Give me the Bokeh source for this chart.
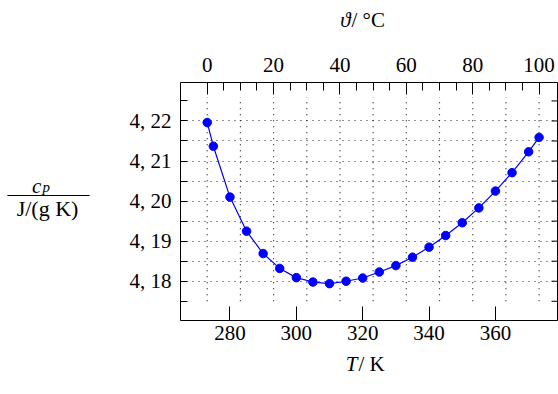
from bokeh.plotting import figure
from bokeh.models import Range1d, LinearAxis, FixedTicker, CustomJSTickFormatter, Label
from bokeh.embed import file_html
from bokeh.resources import INLINE

# ---------------- data ----------------
T_K = [273.15, 275, 280, 285, 290, 295, 300, 305, 310, 315, 320, 325, 330,
       335, 340, 345, 350, 355, 360, 365, 370, 373.15]
cp = [4.2196, 4.2137, 4.2010, 4.1925, 4.1869, 4.1832, 4.1809, 4.1798, 4.1794,
      4.1800, 4.1808, 4.1823, 4.1839, 4.1860, 4.1885, 4.1914, 4.1946, 4.1983,
      4.2025, 4.2071, 4.2123, 4.2159]

x_ticks_K = [280, 300, 320, 340, 360]
x_ticks_C = [0, 20, 40, 60, 80, 100]
x_minor_C = [0, 5, 10, 15, 20, 25, 30, 35, 40, 45, 50, 55, 60, 65, 70, 75, 80, 85, 90, 95, 100]
grid_C = [0, 10, 20, 30, 40, 50, 60, 70, 80, 90, 100]
y_ticks = [4.18, 4.19, 4.20, 4.21, 4.22]
y_minor = [4.175, 4.185, 4.195, 4.205, 4.215, 4.225]
y_grid = [4.18, 4.185, 4.19, 4.195, 4.20, 4.205, 4.21, 4.215, 4.22]
KELVIN_OFFSET = 273.15

# ---------------- layout ----------------
X_START, X_END = 265.1, 379.0
Y_START, Y_END = 4.1702, 4.2296
FONT = "Liberation Serif"
FS = "21px"

p = figure(width=558, height=394,
           x_range=Range1d(X_START, X_END), y_range=Range1d(Y_START, Y_END),
           output_backend="svg", toolbar_location=None,
           min_border_left=180, min_border_right=0,
           min_border_top=82, min_border_bottom=74)
p.background_fill_color = "white"
p.border_fill_color = "white"
p.outline_line_color = "black"
p.outline_line_width = 1
p.outline_line_alpha = 1

# canvas px -> data helpers (for texts placed around the frame)
FL, FR, FT, FB = 180.0, 558.0, 82.0, 320.0
def tx(px):
    return X_START + (px - FL) * (X_END - X_START) / (FR - FL)
def ty(py):
    return Y_END - (py - FT) * (Y_END - Y_START) / (FB - FT)

# grids
p.xgrid.visible = False
p.ygrid.ticker = FixedTicker(ticks=y_grid)
p.ygrid.grid_line_color = "#222222"
p.ygrid.grid_line_dash = "1 5"
p.ygrid.grid_line_width = 1.2

vx = [KELVIN_OFFSET + c for c in grid_C]
p.segment(x0=vx, y0=[min(y_minor)] * len(vx), x1=vx, y1=[max(y_minor) + 0.001] * len(vx),
          line_color="#222222", line_dash="1 5", line_width=1.2)

# bottom axis (Kelvin)
xa = p.xaxis[0]
xa.ticker = FixedTicker(ticks=x_ticks_K, minor_ticks=[])
xa.major_tick_in = 14
xa.major_tick_out = 0
xa.minor_tick_in = 0
xa.minor_tick_out = 0
xa.axis_line_color = None
xa.major_tick_line_color = "black"
xa.major_label_text_font = FONT
xa.major_label_text_font_size = FS
xa.major_label_text_color = "black"
xa.major_label_standoff = 5

# left axis
ya = p.yaxis[0]
ya.ticker = FixedTicker(ticks=y_ticks, minor_ticks=y_minor)
ya.formatter = CustomJSTickFormatter(code="return tick.toFixed(2).replace('.', ', ');")
ya.major_tick_in = 7
ya.major_tick_out = 0
ya.minor_tick_in = 7
ya.minor_tick_out = 0
ya.axis_line_color = None
ya.major_tick_line_color = "black"
ya.minor_tick_line_color = "black"
ya.major_label_text_font = FONT
ya.major_label_text_font_size = FS
ya.major_label_text_color = "black"
ya.major_label_standoff = 9

# top axis (Celsius)
p.extra_x_ranges = {"celsius": Range1d(X_START - KELVIN_OFFSET, X_END - KELVIN_OFFSET)}
ta = LinearAxis(x_range_name="celsius",
                ticker=FixedTicker(ticks=x_ticks_C, minor_ticks=x_minor_C))
ta.major_tick_in = 12
ta.major_tick_out = 0
ta.minor_tick_in = 8
ta.minor_tick_out = 0
ta.axis_line_color = None
ta.major_tick_line_color = "black"
ta.minor_tick_line_color = "black"
ta.major_label_text_font = FONT
ta.major_label_text_font_size = FS
ta.major_label_text_color = "black"
ta.major_label_standoff = 11
p.add_layout(ta, "above")

# right-hand ticks (inside the frame)
ry = y_ticks + y_minor
p.segment(x0=[tx(FR - 7)] * len(ry), y0=ry, x1=[X_END] * len(ry), y1=ry,
          line_color="black", line_width=1)

# data
p.line(T_K, cp, line_color="#0000ff", line_width=1.2)
p.scatter(T_K, cp, size=8.5, fill_color="#0000ff", line_color="#0000ff")

# axis titles (side-panel labels, positioned in data units)
def lab(place, x, y, text, align="left", style="normal", size=FS):
    p.add_layout(Label(x=x, y=y, text=text, text_align=align, text_baseline="alphabetic",
                       text_font=FONT, text_font_size=size, text_font_style=style,
                       text_color="black"), place)

lab("left", tx(350), ty(19.5), "ϑ", align="right", style="italic")
lab("above", tx(351), ty(19.5), "/ °C")
lab("left", tx(357), ty(363), "T", align="right", style="italic")
lab("below", tx(358), ty(363), "/ K")
lab("left", tx(31.5), ty(185), "c", style="italic")
lab("left", tx(42), ty(186.5), "p", style="italic", size="15px")
lab("above", tx(48), ty(193.7), "————", align="center", size="20.5px")
lab("left", tx(47), ty(208), "J/(g K)", align="center", size="22px")

open("out.html", "w").write(file_html(p, INLINE))
